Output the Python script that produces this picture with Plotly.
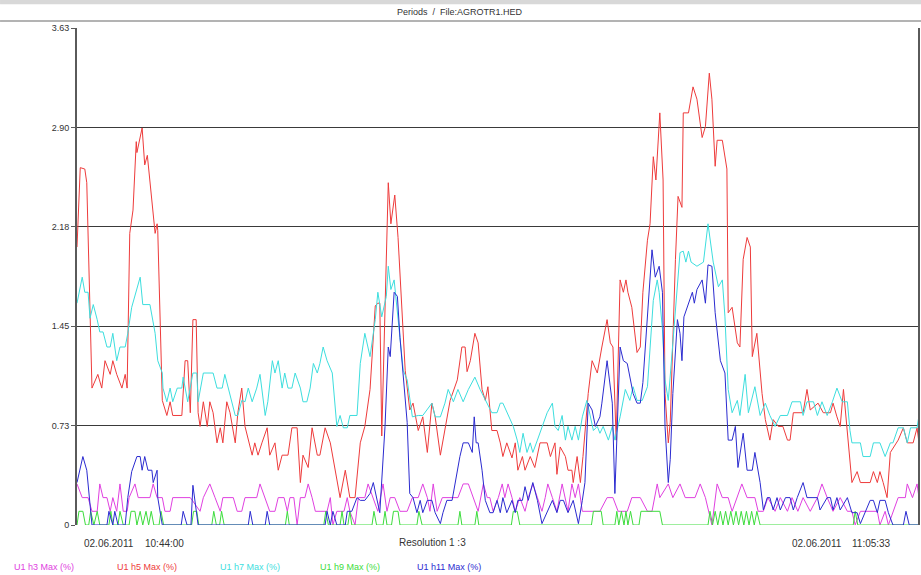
import plotly.graph_objects as go

# ---- data (time in seconds from 02.06.2011 10:44:00, values in %) ----
h5_time = [0, 5, 12, 15, 23, 32, 38, 43, 51, 55, 61, 69, 74, 77, 81, 86, 91, 92, 100, 104, 108, 120, 123, 124,
           131, 138, 143, 147, 161, 166, 170, 174, 178, 183, 186, 189, 194, 200, 204, 209, 215, 220, 224, 230, 235,
           243, 247, 253, 258, 269, 273, 278, 284, 292, 296, 304, 309, 315, 324, 330, 338, 343, 347, 355, 361, 369,
           373, 381, 389, 396, 404, 412, 419, 427, 435, 442, 450, 458, 462, 465, 468, 478, 482, 488, 493, 504, 511,
           516, 524, 531, 538, 545, 550, 558, 565, 573, 584, 588, 591, 596, 599, 604, 611, 616, 622, 627, 631, 637,
           645, 650, 654, 660, 668, 673, 677, 684, 688, 696, 703, 711, 722, 727, 734, 737, 742, 750, 754, 760, 762,
           768, 773, 777, 785, 791, 799, 806, 814, 819, 823, 828, 834, 839, 843, 846, 852, 860, 865, 869, 876, 880,
           885, 889, 895, 900, 903, 908, 911, 919, 923, 929, 931, 939, 946, 952, 960, 965, 971, 975, 980, 983, 991,
           998, 1000, 1006, 1014, 1018, 1023, 1029, 1034, 1037, 1044, 1052, 1057, 1064, 1069, 1077, 1084, 1091, 1095,
           1100, 1115, 1121, 1126, 1138, 1146, 1157, 1161, 1167, 1172, 1177, 1183, 1190, 1198, 1203, 1218, 1223,
           1229, 1233, 1238, 1244, 1249, 1261, 1269, 1275, 1284, 1290, 1293]
h5_value = [2.03, 2.61, 2.6, 2.5, 1.0, 1.1, 1.0, 1.2, 1.1, 1.2, 1.1, 1.0, 1.1, 1.0, 2.13, 2.3, 2.8, 2.72, 2.9, 2.63,
            2.7, 2.13, 2.2, 2.15, 0.91, 0.8, 0.9, 0.8, 0.8, 1.2, 1.2, 0.82, 1.5, 1.5, 0.82, 0.72, 0.9, 0.72, 0.9,
            0.82, 0.6, 0.71, 0.6, 0.9, 0.82, 0.6, 0.82, 1.0, 0.72, 0.51, 0.6, 0.51, 0.6, 0.71, 0.51, 0.6, 0.4, 0.51,
            0.51, 0.71, 0.71, 0.31, 0.51, 0.42, 0.71, 0.51, 0.51, 0.71, 0.6, 0.42, 0.2, 0.4, 0.2, 0.2, 0.6, 0.72,
            0.99, 1.6, 1.62, 1.62, 0.65, 2.5, 2.2, 2.41, 2.1, 1.13, 0.84, 0.89, 0.69, 0.79, 0.53, 0.89, 0.79, 0.51,
            0.69, 0.91, 1.06, 1.2, 1.3, 1.3, 1.12, 1.2, 1.4, 1.33, 0.99, 0.91, 1.01, 0.69, 0.69, 0.6, 0.5, 0.6, 0.49,
            0.6, 0.4, 0.5, 0.4, 0.5, 0.42, 0.6, 0.6, 0.5, 0.6, 0.37, 0.57, 0.5, 0.4, 0.4, 0.31, 0.5, 0.31, 0.5, 0.96,
            1.2, 1.11, 1.3, 1.5, 1.33, 1.3, 0.62, 1.79, 1.7, 1.79, 1.7, 1.59, 1.26, 1.3, 1.7, 2.08, 2.2, 2.69, 2.52,
            3.01, 2.52, 0.96, 0.6, 0.75, 1.94, 2.4, 2.32, 3.01, 3.01, 3.2, 3.11, 2.83, 2.91, 3.3, 3.11, 2.62, 2.81,
            2.81, 2.6, 1.55, 1.59, 1.33, 1.3, 1.94, 2.1, 2.03, 1.23, 1.4, 0.96, 0.77, 0.62, 0.77, 0.72, 0.72, 0.62,
            0.62, 0.82, 0.82, 0.99, 0.84, 0.89, 0.82, 0.82, 0.89, 0.79, 0.72, 0.99, 0.69, 0.31, 0.39, 0.31, 0.31,
            0.39, 0.31, 0.39, 0.31, 0.2, 0.53, 0.62, 0.71, 0.6, 0.6, 0.71, 0.6]

h7_time = [0, 8, 12, 17, 20, 25, 31, 35, 40, 46, 51, 55, 61, 66, 74, 78, 84, 92, 97, 101, 112, 120, 124, 131, 132,
           138, 143, 147, 154, 161, 163, 170, 178, 184, 186, 194, 209, 215, 223, 227, 232, 238, 243, 247, 253, 258,
           263, 269, 276, 281, 289, 293, 300, 304, 309, 315, 319, 324, 330, 335, 343, 347, 353, 358, 363, 369, 373,
           378, 384, 392, 399, 404, 409, 415, 419, 430, 435, 442, 450, 458, 462, 468, 475, 478, 482, 487, 493, 496,
           501, 507, 515, 524, 531, 545, 550, 558, 565, 570, 578, 585, 593, 601, 611, 619, 627, 637, 645, 650, 654,
           662, 670, 676, 680, 685, 691, 696, 700, 707, 714, 722, 730, 734, 739, 745, 750, 754, 760, 765, 770, 776,
           783, 788, 793, 799, 803, 808, 816, 822, 826, 834, 842, 849, 854, 860, 868, 876, 880, 885, 891, 894, 899,
           903, 908, 914, 920, 926, 931, 935, 939, 943, 952, 962, 969, 977, 985, 991, 995, 1000, 1006, 1014, 1018,
           1026, 1031, 1041, 1049, 1057, 1064, 1072, 1080, 1091, 1098, 1111, 1115, 1121, 1131, 1137, 1144, 1152,
           1160, 1167, 1175, 1183, 1187, 1190, 1203, 1207, 1218, 1223, 1233, 1241, 1249, 1253, 1261, 1269, 1275,
           1280, 1290, 1293]
h7_value = [1.62, 1.81, 1.7, 1.7, 1.51, 1.61, 1.5, 1.41, 1.41, 1.3, 1.3, 1.4, 1.2, 1.3, 1.3, 1.4, 1.59, 1.72, 1.81,
            1.61, 1.61, 1.4, 1.2, 1.11, 1.0, 0.9, 1.0, 0.9, 1.0, 1.0, 1.08, 0.9, 1.11, 1.11, 0.9, 1.11, 1.11, 1.0,
            1.0, 1.1, 1.0, 0.9, 0.8, 0.8, 0.91, 0.9, 1.0, 0.9, 1.0, 1.1, 0.8, 0.9, 1.2, 1.11, 1.2, 1.0, 1.11, 1.0,
            1.0, 1.11, 1.0, 0.9, 0.9, 1.0, 1.18, 1.11, 1.18, 1.3, 1.2, 1.11, 0.72, 0.8, 0.71, 0.71, 0.8, 0.8, 1.18,
            1.4, 1.23, 1.5, 1.7, 1.52, 1.67, 1.89, 1.72, 1.79, 1.5, 1.4, 1.13, 1.06, 0.79, 0.8, 0.8, 0.89, 0.79,
            0.79, 0.89, 0.99, 0.9, 0.99, 0.9, 0.99, 1.08, 0.99, 0.91, 0.82, 0.82, 0.89, 0.89, 0.8, 0.72, 0.62, 0.53,
            0.67, 0.53, 0.6, 0.53, 0.62, 0.72, 0.82, 0.89, 0.72, 0.69, 0.8, 0.62, 0.72, 0.62, 0.72, 0.62, 0.79, 0.91,
            0.79, 0.69, 0.72, 0.67, 0.72, 0.62, 0.72, 0.62, 0.79, 0.99, 0.91, 1.01, 0.91, 0.91, 1.01, 1.3, 1.64,
            1.79, 1.7, 1.43, 1.06, 0.91, 1.28, 1.64, 1.99, 2.0, 1.92, 2.0, 1.92, 1.89, 1.92, 2.2, 1.92, 1.74, 1.79,
            1.52, 0.99, 0.82, 0.91, 0.8, 1.1, 0.82, 1.01, 0.8, 0.89, 0.8, 0.72, 0.8, 0.8, 0.9, 0.9, 0.8, 0.9, 0.9,
            0.8, 0.9, 0.8, 0.9, 1.0, 0.9, 0.9, 0.69, 0.6, 0.6, 0.5, 0.5, 0.6, 0.6, 0.5, 0.6, 0.6, 0.71, 0.71, 0.6,
            0.71, 0.71, 0.8]

h11_time = [0, 9, 15, 17, 23, 46, 49, 55, 58, 63, 74, 78, 84, 92, 97, 100, 104, 109, 115, 117, 123, 124, 131, 160,
            163, 169, 175, 178, 186, 263, 266, 270, 289, 292, 296, 381, 384, 389, 393, 399, 412, 415, 422, 430, 435,
            442, 450, 455, 461, 465, 473, 478, 481, 487, 492, 496, 507, 511, 516, 522, 527, 531, 538, 545, 550, 558,
            562, 568, 576, 584, 588, 593, 601, 607, 610, 613, 616, 622, 627, 634, 639, 645, 650, 654, 660, 668, 673,
            677, 684, 688, 693, 700, 707, 714, 722, 730, 737, 742, 747, 754, 762, 770, 776, 780, 785, 791, 796, 803,
            806, 814, 822, 826, 834, 839, 845, 849, 854, 860, 865, 869, 876, 883, 888, 894, 899, 903, 908, 911, 915,
            922, 926, 929, 932, 945, 948, 952, 960, 965, 969, 975, 980, 988, 995, 1000, 1006, 1011, 1015, 1023, 1029,
            1037, 1041, 1049, 1054, 1060, 1064, 1069, 1075, 1080, 1088, 1095, 1100, 1106, 1115, 1121, 1137, 1141,
            1152, 1157, 1161, 1167, 1172, 1183, 1190, 1198, 1203, 1210, 1218, 1223, 1229, 1233, 1241, 1246, 1253,
            1269, 1273, 1278, 1293]
h11_value = [0.31, 0.5, 0.4, 0.31, 0, 0, 0.1, 0, 0.1, 0, 0, 0.2, 0.39, 0.5, 0.5, 0.4, 0.5, 0.4, 0.4, 0.31, 0.4,
             0.2, 0, 0, 0.1, 0, 0, 0.29, 0, 0, 0.1, 0, 0, 0.1, 0, 0, 0.1, 0, 0.1, 0, 0, 0.1, 0.1, 0.2, 0.18, 0.18,
             0.23, 0.31, 0.18, 0.09, 0.72, 1.3, 1.23, 1.7, 1.67, 1.37, 0.75, 0.23, 0.2, 0.09, 0.18, 0.09, 0.18, 0.18,
             0.09, 0.01, 0.09, 0.18, 0.18, 0.4, 0.5, 0.6, 0.6, 0.53, 0.79, 0.6, 0.6, 0.4, 0.18, 0.09, 0.09, 0.18,
             0.09, 0.2, 0.09, 0.18, 0.09, 0.18, 0.18, 0.28, 0.18, 0.31, 0.18, 0.01, 0.09, 0.18, 0.09, 0.18, 0.18,
             0.09, 0.18, 0.01, 0.18, 0.31, 0.89, 0.84, 0.72, 0.79, 0.89, 1.2, 0.89, 0.23, 1.3, 1.2, 1.18, 1.08, 0.96,
             0.89, 0.89, 1.04, 1.5, 2.01, 1.81, 1.89, 1.7, 0.72, 0.31, 0.48, 0.96, 1.5, 1.4, 1.2, 1.52, 1.7, 1.62,
             1.72, 1.79, 1.62, 1.9, 1.89, 1.55, 1.2, 1.11, 0.62, 0.62, 0.72, 0.42, 0.67, 0.4, 0.4, 0.53, 0.31, 0.11,
             0.2, 0.2, 0.11, 0.2, 0.11, 0.2, 0.2, 0.11, 0.2, 0.31, 0.2, 0.2, 0.11, 0.2, 0.2, 0.11, 0.2, 0.11, 0.2,
             0.09, 0.09, 0.01, 0.09, 0.18, 0.18, 0.09, 0.18, 0.18, 0.09, 0, 0, 0.1, 0, 0]

h3_time = [0, 8, 17, 23, 31, 35, 40, 46, 51, 55, 61, 66, 71, 77, 80, 89, 94, 112, 117, 123, 131, 135, 143, 147,
           174, 189, 194, 204, 212, 220, 224, 240, 246, 253, 258, 276, 281, 289, 296, 304, 309, 318, 323, 327, 333,
           338, 343, 350, 355, 361, 366, 384, 389, 393, 399, 410, 415, 419, 427, 432, 442, 447, 455, 462, 470, 476,
           481, 488, 496, 507, 515, 524, 531, 538, 542, 547, 553, 561, 585, 593, 601, 608, 616, 624, 630, 634, 639,
           647, 653, 657, 662, 668, 673, 680, 688, 693, 700, 707, 714, 719, 723, 730, 737, 745, 750, 754, 760, 765,
           770, 776, 803, 814, 823, 831, 845, 852, 865, 876, 883, 891, 895, 908, 915, 926, 934, 949, 957, 965, 975,
           983, 991, 1000, 1006, 1014, 1021, 1029, 1041, 1046, 1054, 1061, 1072, 1080, 1091, 1098, 1107, 1115, 1126,
           1137, 1144, 1152, 1161, 1172, 1183, 1190, 1195, 1203, 1229, 1233, 1241, 1246, 1253, 1261, 1272, 1275,
           1283, 1290, 1293]
h3_value = [0.3, 0.2, 0.2, 0.1, 0.1, 0.3, 0.2, 0.2, 0.1, 0.2, 0.1, 0.3, 0.1, 0.1, 0.2, 0.3, 0.2, 0.2, 0.3, 0.2,
            0.2, 0.1, 0.1, 0.2, 0.2, 0.1, 0.2, 0.3, 0.2, 0.1, 0.2, 0.2, 0.1, 0.1, 0.2, 0.2, 0.3, 0.2, 0.1, 0.1, 0.2,
            0.2, 0.1, 0.2, 0.2, 0, 0.2, 0.2, 0.3, 0.2, 0.1, 0.1, 0.2, 0, 0.1, 0.1, 0.2, 0.1, 0, 0.2, 0.2, 0.3, 0.2,
            0.1, 0.3, 0.1, 0.2, 0.2, 0.1, 0.1, 0.2, 0.2, 0.3, 0.2, 0.1, 0.3, 0.1, 0.2, 0.2, 0.3, 0.3, 0.2, 0.1, 0.3,
            0.2, 0.2, 0.1, 0.2, 0.3, 0.2, 0.3, 0.2, 0.1, 0.2, 0.1, 0.2, 0.3, 0.2, 0.1, 0.2, 0.3, 0.2, 0.1, 0.3, 0.2,
            0.1, 0.3, 0.2, 0.3, 0.1, 0.1, 0.2, 0.2, 0.1, 0.1, 0.2, 0.2, 0.1, 0.1, 0.3, 0.2, 0.3, 0.2, 0.3, 0.2, 0.2,
            0.3, 0.2, 0, 0.3, 0.2, 0.2, 0.1, 0.2, 0.3, 0.2, 0.2, 0.1, 0.1, 0.2, 0.1, 0.2, 0.1, 0.2, 0.1, 0.2, 0.1,
            0.2, 0.3, 0.2, 0.1, 0.2, 0.1, 0.1, 0, 0.1, 0.1, 0, 0.1, 0, 0.1, 0.2, 0.2, 0.3, 0.2, 0.3, 0.2]

h9_time = [0, 3, 9, 13, 18, 21, 26, 31, 35, 49, 52, 55, 63, 66, 71, 80, 83, 89, 92, 97, 101, 106, 110, 114, 118,
           126, 129, 133, 176, 179, 184, 187, 207, 210, 214, 219, 222, 226, 320, 323, 326, 379, 382, 386, 404, 407,
           410, 416, 419, 422, 453, 456, 460, 470, 473, 476, 483, 486, 493, 496, 522, 525, 530, 585, 588, 591, 611,
           614, 617, 667, 670, 676, 680, 790, 793, 805, 808, 826, 829, 832, 836, 840, 843, 846, 850, 854, 863, 866,
           895, 899, 969, 972, 976, 980, 984, 988, 992, 996, 1000, 1004, 1008, 1012, 1016, 1020, 1024, 1028, 1032,
           1036, 1040, 1044, 1049, 1192, 1195, 1199, 1293]
h9_value = [0, 0.1, 0.1, 0, 0, 0.1, 0, 0.1, 0, 0, 0.1, 0, 0, 0.1, 0, 0, 0.1, 0.1, 0, 0.1, 0, 0.1, 0, 0.1, 0, 0,
            0.1, 0, 0, 0.1, 0.1, 0, 0, 0.1, 0, 0, 0.1, 0, 0, 0.1, 0, 0, 0.1, 0, 0, 0.1, 0, 0, 0.1, 0, 0, 0.1, 0, 0,
            0.1, 0, 0, 0.1, 0.1, 0, 0, 0.1, 0, 0, 0.1, 0, 0, 0.1, 0, 0, 0.1, 0.1, 0, 0, 0.1, 0.1, 0, 0, 0.1, 0, 0.1,
            0, 0.1, 0, 0.1, 0, 0, 0.1, 0.1, 0, 0, 0.1, 0, 0.1, 0, 0.1, 0, 0.1, 0, 0.1, 0, 0.1, 0, 0.1, 0, 0.1, 0,
            0.1, 0, 0.1, 0, 0, 0.1, 0, 0]

series_names = ["U1 h3 Max (%)", "U1 h5 Max (%)", "U1 h7 Max (%)", "U1 h9 Max (%)", "U1 h11 Max (%)"]
series_colors = ["#e040e0", "#ee3b3b", "#3ddede", "#3ddc3d", "#2b2bd0"]

y_tick_values = [0, 0.726, 1.452, 2.178, 2.904, 3.63]
y_tick_labels = ["0", "0.73", "1.45", "2.18", "2.90", "3.63"]

title_text = "Periods  /  File:AGROTR1.HED"
start_date, start_clock = "02.06.2011", "10:44:00"
end_date, end_clock = "02.06.2011", "11:05:33"
resolution_text = "Resolution 1 :3"
total_seconds = 1293

# ---- figure ----
data = [(h3_time, h3_value), (h5_time, h5_value), (h7_time, h7_value), (h9_time, h9_value), (h11_time, h11_value)]
draw_order = [0, 1, 2, 3, 4]

fig = go.Figure()
for i in draw_order:
    t, v = data[i]
    fig.add_trace(go.Scatter(x=t, y=v, mode="lines", name=series_names[i],
                             line=dict(color=series_colors[i], width=1),
                             showlegend=False, hoverinfo="skip"))

FONT = "Liberation Sans, Arial, sans-serif"
fig.update_layout(
    width=921, height=575, autosize=False,
    margin=dict(l=77, r=2, t=28, b=50, pad=0),
    paper_bgcolor="white", plot_bgcolor="white",
    font=dict(family=FONT, color="#333333"),
)
fig.update_xaxes(range=[0, total_seconds], showgrid=False, zeroline=False,
                 showticklabels=False, ticks="", showline=False)
fig.update_yaxes(range=[0, 3.63], tickmode="array", tickvals=y_tick_values, ticktext=y_tick_labels,
                 showgrid=True, gridcolor="#3a3a3a", gridwidth=1.4, zeroline=False,
                 showline=True, linecolor="#5a5a5a", linewidth=2,
                 ticks="outside", ticklen=4, tickcolor="#5a5a5a",
                 tickfont=dict(size=9, color="#333333", family=FONT))

# right border of the plot area
fig.add_shape(type="line", xref="paper", yref="paper", x0=1, x1=1, y0=0, y1=1,
              line=dict(color="#5a5a5a", width=2))
# header rule
fig.add_shape(type="line", xref="paper", yref="paper", x0=-0.0914, x1=1.0024, y0=1.014, y1=1.014,
              line=dict(color="#9a9a9a", width=1.5))
fig.add_shape(type="rect", xref="paper", yref="paper", x0=-0.0914, x1=1.0024, y0=1.048, y1=1.06,
              line=dict(width=0), fillcolor="#d8d8d8")

ann = []
ann.append(dict(text=title_text, x=0.455, y=1.032, xanchor="center", yanchor="middle",
                font=dict(size=9, color="#333333")))
ann.append(dict(text=start_date, x=0.006, y=-0.038, xanchor="left", yanchor="middle",
                font=dict(size=10, color="#333333")))
ann.append(dict(text=start_clock, x=0.078, y=-0.038, xanchor="left", yanchor="middle",
                font=dict(size=10, color="#333333")))
ann.append(dict(text=resolution_text, x=0.422, y=-0.036, xanchor="center", yanchor="middle",
                font=dict(size=10, color="#333333")))
ann.append(dict(text=end_date, x=0.847, y=-0.038, xanchor="left", yanchor="middle",
                font=dict(size=10, color="#333333")))
ann.append(dict(text=end_clock, x=0.918, y=-0.038, xanchor="left", yanchor="middle",
                font=dict(size=10, color="#333333")))
legend_x = [-0.0772, 0.0452, 0.1675, 0.2862, 0.4014]
for name, color, lx in zip(series_names, series_colors, legend_x):
    ann.append(dict(text=name, x=lx, y=-0.0845, xanchor="left", yanchor="middle",
                    font=dict(size=9, color=color)))
for a in ann:
    a.update(xref="paper", yref="paper", showarrow=False)
fig.update_layout(annotations=ann)

fig.write_html("out.html", config={"displayModeBar": False},
               post_script="document.body.style.margin='0';document.body.style.overflow='hidden';")
